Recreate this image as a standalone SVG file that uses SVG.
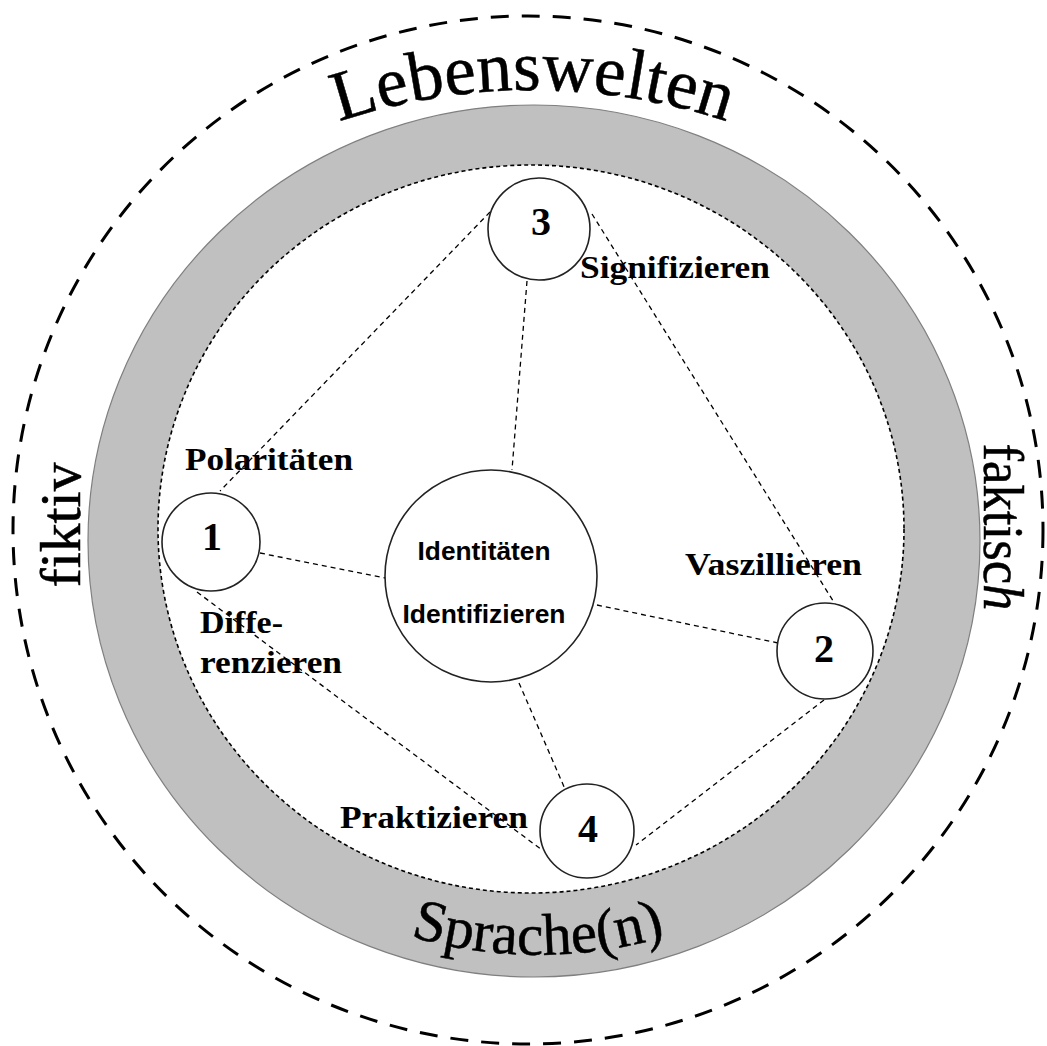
<svg xmlns="http://www.w3.org/2000/svg" width="1047" height="1046" viewBox="0 0 1047 1046">
<style>
.big{font-family:"Liberation Serif","Times New Roman",serif;fill:#000;stroke:#000;stroke-width:0.5}
.lbl{font-family:"Liberation Serif","Times New Roman",serif;font-weight:bold;font-size:32px;fill:#000}
.num{font-family:"Liberation Serif","Times New Roman",serif;font-weight:bold;font-size:40px;fill:#000;text-anchor:middle}
.ctr{font-family:"Liberation Sans",Arial,sans-serif;font-weight:bold;font-size:25px;fill:#000;text-anchor:middle}
.node{fill:#fff;stroke:#222;stroke-width:1.6}
.conn{fill:none;stroke:#000;stroke-width:1.3;stroke-dasharray:5 4}
</style>
<defs>
<path id="arcTop" d="M 140.9,232.7 A 610 610 0 0 1 925.1,232.7"/>
<path id="arcBot" d="M 250,850 A 448 448 0 0 0 826,850"/>
</defs>
<rect width="1047" height="1046" fill="#fff"/>
<g id="background">
<ellipse cx="528" cy="530" rx="515" ry="514" fill="none" stroke="#000" stroke-width="3" stroke-dasharray="18 13"/>
<ellipse cx="534" cy="541" rx="446" ry="436" fill="#c0c0c0" stroke="#7f7f7f" stroke-width="1.2"/>
<ellipse cx="531" cy="529" rx="373" ry="364" fill="#fff" stroke="#000" stroke-width="1.6" stroke-dasharray="4 3"/>
</g>
<g id="outer-labels">
<text class="big" font-size="71"><textPath href="#arcTop" startOffset="50%" text-anchor="middle">Lebenswelten</textPath></text>
<text class="big" font-size="59"><textPath href="#arcBot" startOffset="50%" text-anchor="middle">Sprache(n)</textPath></text>
<text class="big" font-size="58" text-anchor="middle" transform="translate(80,525) rotate(-90)" textLength="125" lengthAdjust="spacingAndGlyphs">fiktiv</text>
<text class="big" font-size="56" text-anchor="middle" transform="translate(984,527) rotate(90)" textLength="167" lengthAdjust="spacingAndGlyphs">faktisc<tspan font-style="italic">h</tspan></text>
</g>
<g id="connectors">
<line class="conn" x1="490" y1="212" x2="220" y2="491"/>
<line class="conn" x1="527" y1="281" x2="512" y2="470"/>
<line class="conn" x1="592" y1="214" x2="835" y2="604"/>
<line class="conn" x1="260" y1="553" x2="385" y2="578"/>
<line class="conn" x1="597" y1="605" x2="778" y2="643"/>
<line class="conn" x1="197" y1="592" x2="542" y2="850"/>
<line class="conn" x1="519" y1="683" x2="565" y2="789"/>
<line class="conn" x1="824" y1="700" x2="636" y2="845"/>
</g>
<g id="node-center">
<circle class="node" cx="491" cy="576" r="106"/>
<text class="ctr" x="484" y="560" textLength="133" lengthAdjust="spacingAndGlyphs">Identitäten</text>
<text class="ctr" x="484" y="623" textLength="163" lengthAdjust="spacingAndGlyphs">Identifizieren</text>
</g>
<g id="node-1">
<circle class="node" cx="211" cy="542" r="49"/>
<text class="num" x="212" y="550">1</text>
</g>
<g id="node-2">
<circle class="node" cx="825" cy="651" r="48"/>
<text class="num" x="824" y="662">2</text>
</g>
<g id="node-3">
<circle class="node" cx="539" cy="229" r="51"/>
<text class="num" x="541" y="235">3</text>
</g>
<g id="node-4">
<circle class="node" cx="587" cy="831" r="47"/>
<text class="num" x="588" y="842">4</text>
</g>
<g id="labels">
<text class="lbl" x="580" y="278" textLength="190" lengthAdjust="spacingAndGlyphs">Signifizieren</text>
<text class="lbl" x="185" y="470" textLength="168" lengthAdjust="spacingAndGlyphs">Polaritäten</text>
<text class="lbl" x="200" y="633" textLength="83" lengthAdjust="spacingAndGlyphs">Diffe-</text>
<text class="lbl" x="200" y="673" textLength="142" lengthAdjust="spacingAndGlyphs">renzieren</text>
<text class="lbl" x="685" y="575" textLength="177" lengthAdjust="spacingAndGlyphs">Vaszillieren</text>
<text class="lbl" x="340" y="828" textLength="188" lengthAdjust="spacingAndGlyphs">Praktizieren</text>
</g>
</svg>
